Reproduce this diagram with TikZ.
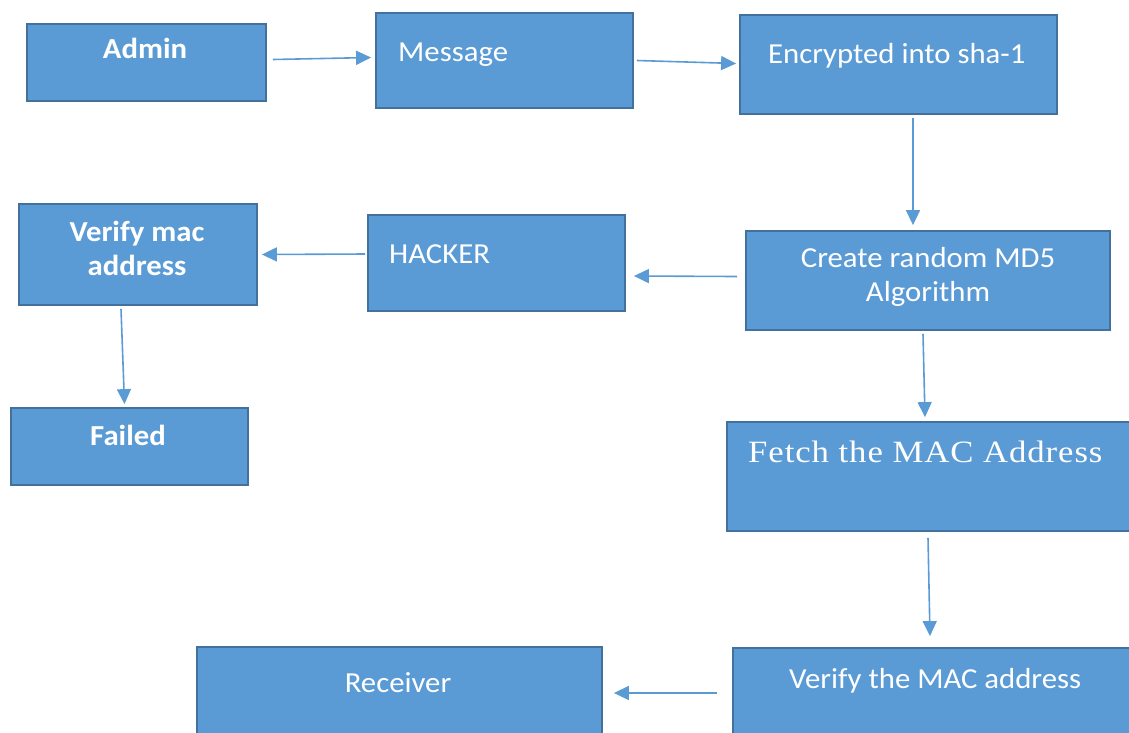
\documentclass[tikz,border=0pt]{standalone}
\usepackage{fontspec}
\setmainfont[FakeStretch=1.06]{Carlito}
\newfontfamily\serifmac[FakeStretch=1.12,LetterSpace=3]{Liberation Serif}
\usetikzlibrary{arrows.meta}
\definecolor{boxfill}{HTML}{5B9BD5}
\definecolor{boxedge}{HTML}{41719C}
\tikzset{
  flowbox/.style={draw=boxedge, line width=1.8pt, fill=boxfill},
  lbl/.style={text=white, inner sep=0pt, font=\fontsize{29}{34}\selectfont},
  blbl/.style={lbl, font=\fontsize{29}{34}\selectfont\bfseries},
  flow/.style={draw=boxfill, line width=1.6pt, -{Triangle[length=15pt,width=14pt]}}
}
\begin{document}
\begin{tikzpicture}[x=1pt,y=-1pt]
\useasboundingbox (0,0) rectangle (1129,732);
\begin{scope}
\clip (0,0) rectangle (1129,732);
% boxes
\node[flowbox, minimum width=239pt, minimum height=77pt] (admin) at (146.5,62.5) {};
\node[flowbox, minimum width=257pt, minimum height=95pt] (msg) at (504.5,60.5) {};
\node[flowbox, minimum width=317pt, minimum height=99pt] (enc) at (898.5,64.5) {};
\node[flowbox, minimum width=364pt, minimum height=99pt] (md5) at (928,280.5) {};
\node[flowbox, minimum width=257pt, minimum height=96pt] (hacker) at (496.5,263) {};
\node[flowbox, minimum width=238pt, minimum height=101pt] (vmac) at (138,254.5) {};
\node[flowbox, minimum width=237pt, minimum height=77pt] (failed) at (129.5,446.5) {};
\node[flowbox, minimum width=410pt, minimum height=109pt] (fetch) at (932,476.5) {};
\node[flowbox, minimum width=404pt, minimum height=100pt] (vMAC) at (935,698) {};
\node[flowbox, minimum width=405pt, minimum height=100pt] (recv) at (399.5,697) {};
\end{scope}
% labels
\node[blbl, anchor=base] at (145,58) {Admin};
\node[lbl, anchor=base west] at (398,61) {Message};
\node[lbl, anchor=base west] at (768,63) {Encrypted into sha-1};
\node[lbl, anchor=base, align=center] at (928,301) {Create random MD5\\Algorithm};
\node[blbl, anchor=base, align=center] at (137,275) {Verify mac\\address};
\node[lbl, anchor=base west] at (389,263) {HACKER};
\node[blbl, anchor=base] at (128,445) {Failed};
\node[text=white, inner sep=0pt, anchor=base west, font=\serifmac\fontsize{31}{36}\selectfont] at (748,462) {Fetch the MAC Address};
\node[lbl, anchor=base west] at (789,688) {Verify the MAC address};
\node[lbl, anchor=base] at (398,692) {Receiver};
% connectors
\draw[flow] ([shift={(6,-3)}]admin.east) -- ([shift={(-4,-3)}]msg.west);
\draw[flow] ([shift={(3,0)}]msg.east) -- ([shift={(-3,-1)}]enc.west);
\draw[flow] ([shift={(14.5,3)}]enc.south) -- ([shift={(-15,-5)}]md5.north);
\draw[flow] ([shift={(-8,-4)}]md5.west) -- ([shift={(8,13)}]hacker.east);
\draw[flow] ([shift={(-2,-9)}]hacker.west) -- ([shift={(4,0)}]vmac.east);
\draw[flow] ([shift={(-17,3)}]vmac.south) -- ([shift={(-5,-3)}]failed.north);
\draw[flow] ([shift={(-5,3)}]md5.south) -- ([shift={(-7,-4)}]fetch.north);
\draw[flow] ([shift={(-4,6)}]fetch.south) -- ([shift={(-5,-11)}]vMAC.north);
\draw[flow] ([shift={(-15,-5)}]vMAC.west) -- ([shift={(11,-4)}]recv.east);
\end{tikzpicture}
\end{document}
